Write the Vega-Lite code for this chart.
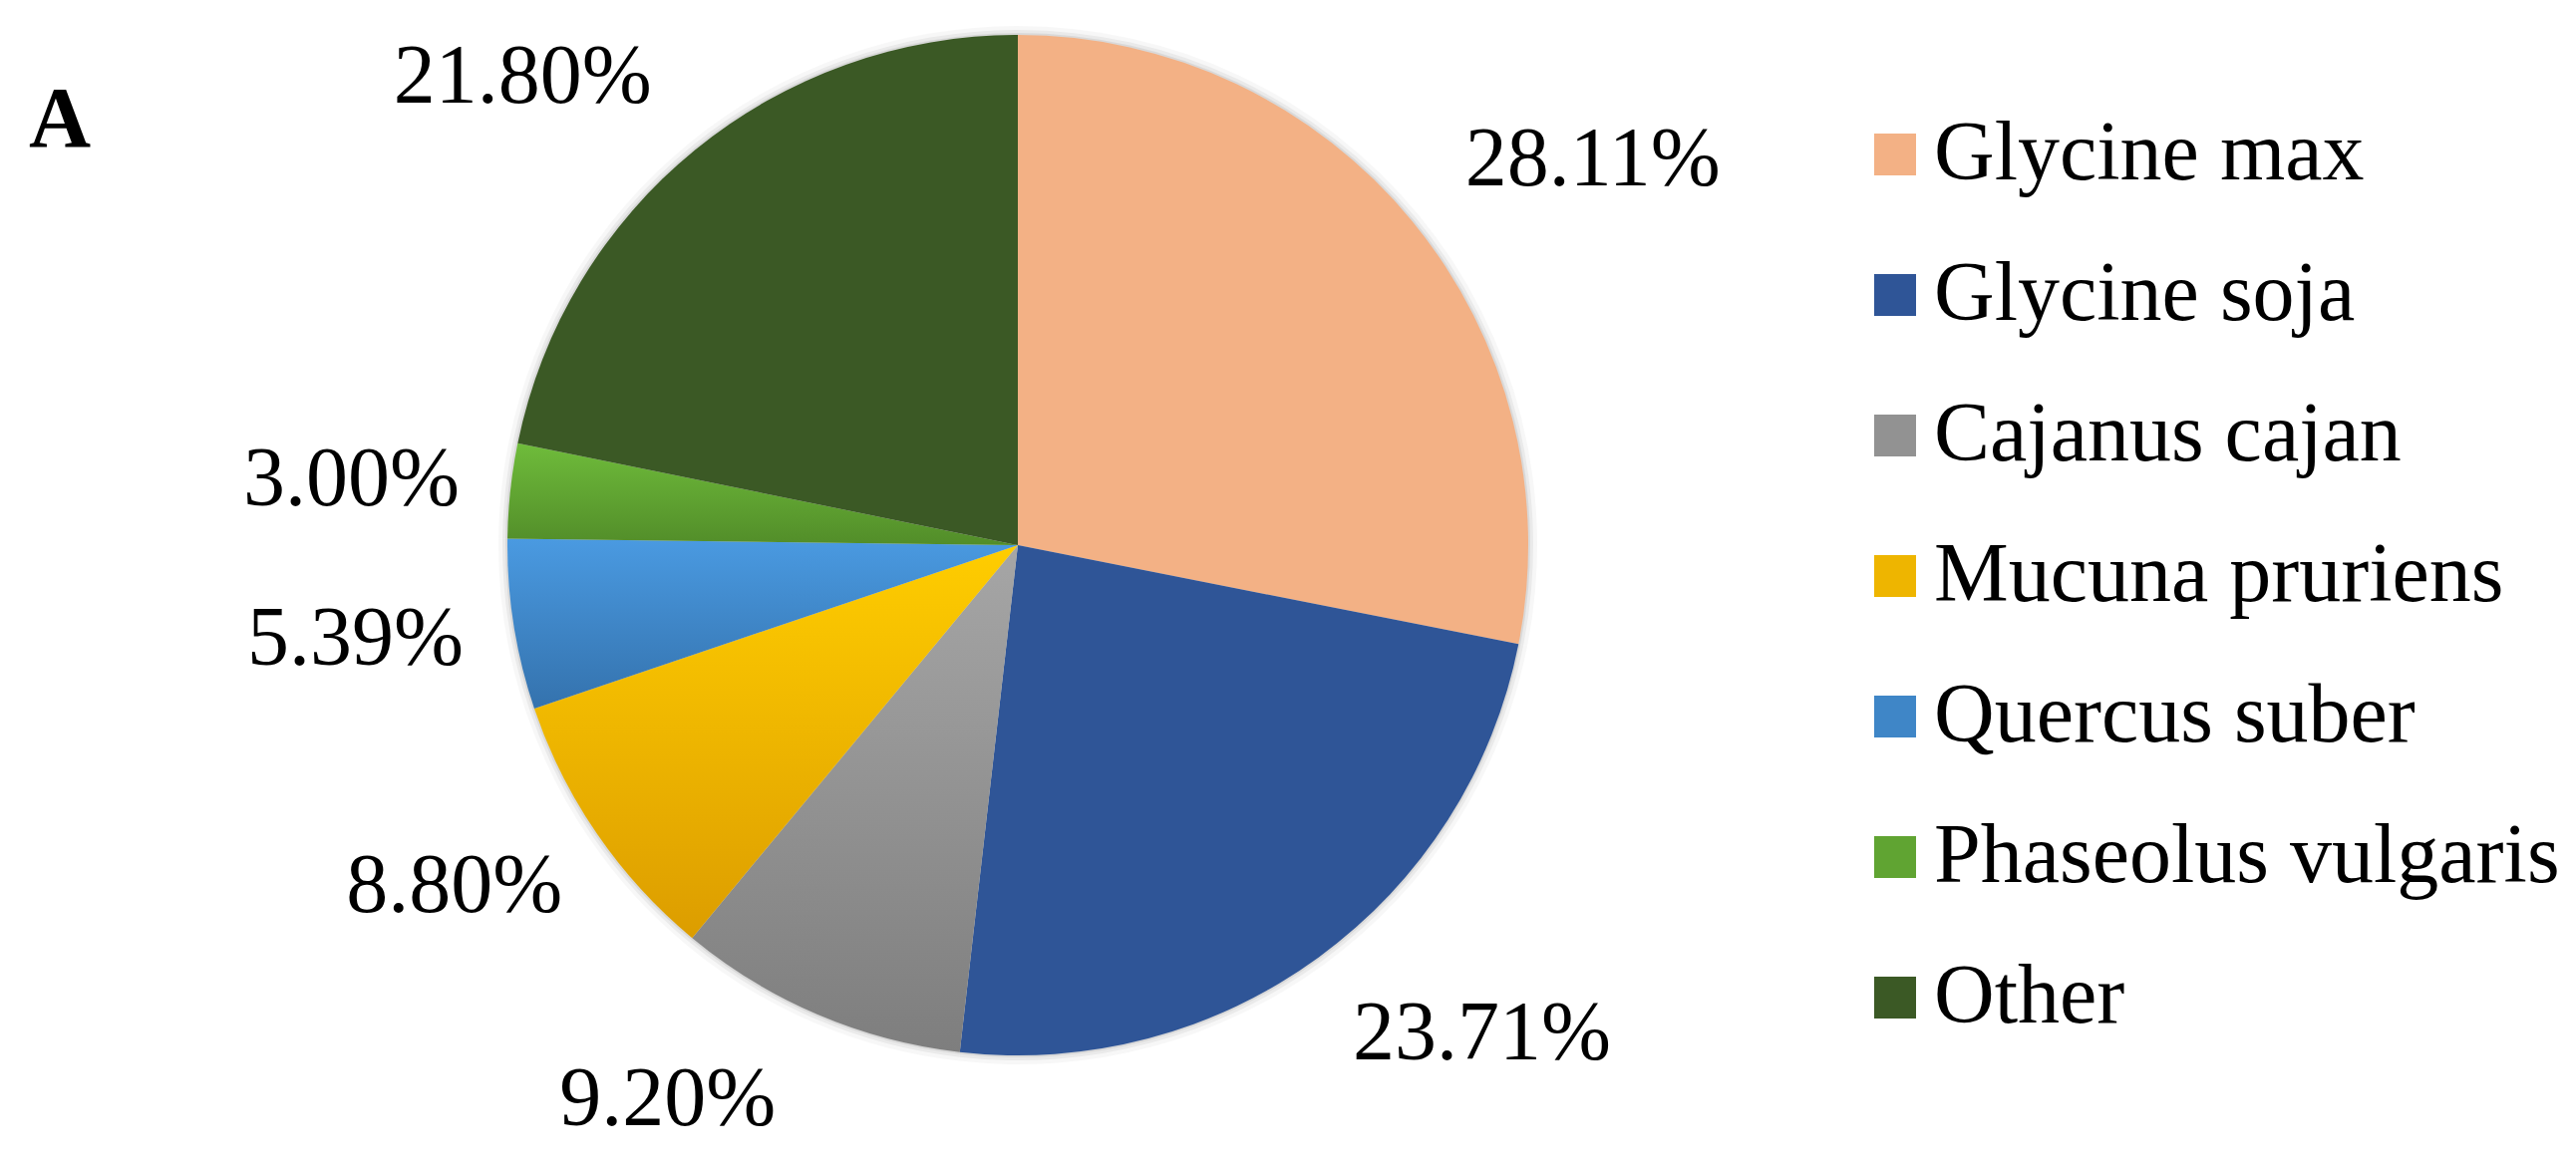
{
  "$schema": "https://vega.github.io/schema/vega-lite/v6.json",
  "width": 2042,
  "height": 1094,
  "autosize": {"type": "none"},
  "padding": {"left": 0, "top": 0, "right": 542, "bottom": 77},
  "background": "white",
  "title": {
    "text": "A",
    "anchor": "start",
    "frame": "group",
    "orient": "top",
    "font": "Liberation Serif",
    "fontSize": 86,
    "fontWeight": "bold",
    "color": "black",
    "baseline": "alphabetic",
    "offset": 0,
    "dx": 29,
    "dy": 233
  },
  "data": {
    "values": [
      {"species": "Glycine max", "share": 0.2811, "idx": 1},
      {"species": "Glycine soja", "share": 0.2371, "idx": 2},
      {"species": "Cajanus cajan", "share": 0.092, "idx": 3},
      {"species": "Mucuna pruriens", "share": 0.088, "idx": 4},
      {"species": "Quercus suber", "share": 0.0539, "idx": 5},
      {"species": "Phaseolus vulgaris", "share": 0.03, "idx": 6},
      {"species": "Other", "share": 0.218, "idx": 7}
    ]
  },
  "encoding": {
    "theta": {"field": "share", "type": "quantitative", "stack": true},
    "order": {"field": "idx", "type": "quantitative"}
  },
  "layer": [
    {
      "mark": {"type": "arc", "outerRadius": 521, "strokeWidth": 0, "color": "#000000", "opacity": 0.03},
      "encoding": {}
    },
    {
      "mark": {"type": "arc", "outerRadius": 517, "strokeWidth": 0, "color": "#000000", "opacity": 0.05},
      "encoding": {}
    },
    {
      "mark": {"type": "arc", "outerRadius": 514, "strokeWidth": 0, "color": "#000000", "opacity": 0.07},
      "encoding": {}
    },
    {
      "mark": {"type": "arc", "outerRadius": 512, "strokeWidth": 0},
      "encoding": {
        "color": {
          "condition": [
            {"test": "datum.species === 'Cajanus cajan'", "value": {"gradient": "linear", "x1": 0, "y1": 0, "x2": 0, "y2": 1, "stops": [{"offset": 0, "color": "#a6a6a6"}, {"offset": 1, "color": "#7e7e7e"}]}},
            {"test": "datum.species === 'Mucuna pruriens'", "value": {"gradient": "linear", "x1": 0, "y1": 0, "x2": 0, "y2": 1, "stops": [{"offset": 0, "color": "#ffcd00"}, {"offset": 1, "color": "#dc9d00"}]}},
            {"test": "datum.species === 'Quercus suber'", "value": {"gradient": "linear", "x1": 0, "y1": 0, "x2": 0, "y2": 1, "stops": [{"offset": 0, "color": "#4a9ae1"}, {"offset": 1, "color": "#3472ad"}]}},
            {"test": "datum.species === 'Phaseolus vulgaris'", "value": {"gradient": "linear", "x1": 0, "y1": 0, "x2": 0, "y2": 1, "stops": [{"offset": 0, "color": "#6fbc3b"}, {"offset": 1, "color": "#528d29"}]}}
          ],
          "field": "species",
          "type": "nominal",
          "scale": {
            "domain": ["Glycine max", "Glycine soja", "Cajanus cajan", "Mucuna pruriens", "Quercus suber", "Phaseolus vulgaris", "Other"],
            "range": ["#f3b185", "#2f5597", "#929292", "#eeb500", "#3f86c7", "#60a432", "#3b5925"]
          },
          "legend": {
            "title": null,
            "orient": "none",
            "legendX": 1859,
            "legendY": 113,
            "symbolType": "square",
            "symbolSize": 1764,
            "symbolStrokeWidth": 0,
            "symbolOpacity": 1,
            "labelFont": "Liberation Serif",
            "labelFontSize": 84,
            "labelColor": "black",
            "labelOffset": -3,
            "rowPadding": 57,
            "padding": 0,
            "labelLimit": 0
          }
        }
      }
    },
    {
      "mark": {"type": "text", "radius": 608, "dx": 107, "font": "Liberation Serif", "fontSize": 84, "color": "black", "align": "center", "baseline": "middle"},
      "encoding": {
        "text": {"condition": {"test": "datum.idx <= 2", "field": "share", "type": "quantitative", "format": ".2%"}, "value": ""}
      }
    },
    {
      "mark": {"type": "text", "radius": 605, "dx": -114, "font": "Liberation Serif", "fontSize": 84, "color": "black", "align": "center", "baseline": "middle"},
      "encoding": {
        "text": {"condition": {"test": "datum.idx === 3 || datum.idx === 7", "field": "share", "type": "quantitative", "format": ".2%"}, "value": ""}
      }
    },
    {
      "mark": {"type": "text", "radius": 606, "dx": -66, "font": "Liberation Serif", "fontSize": 84, "color": "black", "align": "center", "baseline": "middle"},
      "encoding": {
        "text": {"condition": {"test": "datum.idx >= 4 && datum.idx <= 6", "field": "share", "type": "quantitative", "format": ".2%"}, "value": ""}
      }
    }
  ],
  "config": {"view": {"stroke": null}}
}
